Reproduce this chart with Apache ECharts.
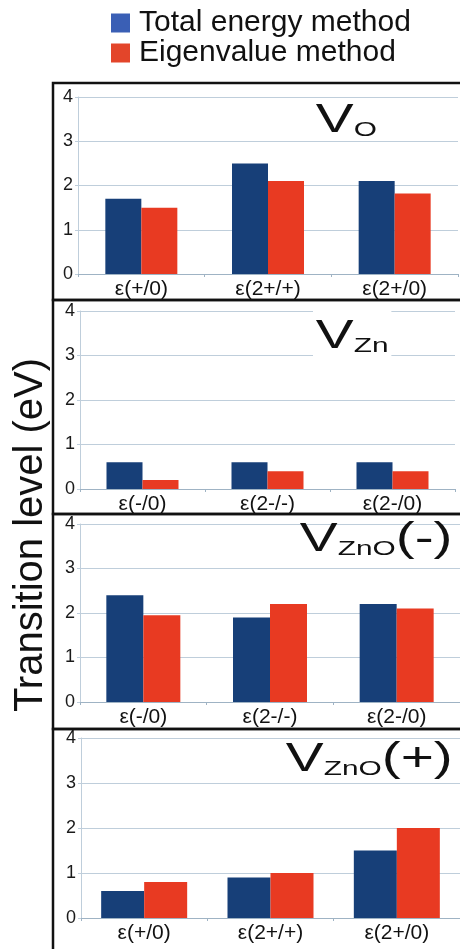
<!DOCTYPE html>
<html>
<head>
<meta charset="utf-8">
<script src="https://cdn.jsdelivr.net/npm/echarts@6/dist/echarts.min.js"></script>
<style>
html,body{margin:0;padding:0;background:#fff;}
#chart{width:460px;height:949px;}
</style>
</head>
<body>
<div id="chart"></div>
<script>
// ---- data ----
const seriesNames = ['Total energy method', 'Eigenvalue method'];
const yTicks = [0, 1, 2, 3, 4];

const catsVO = ['ε(+/0)', 'ε(2+/+)', 'ε(2+/0)'];
const totalVO = [1.7, 2.5, 2.1];
const eigenVO = [1.5, 2.1, 1.82];

const catsVZn = ['ε(-/0)', 'ε(2-/-)', 'ε(2-/0)'];
const totalVZn = [0.6, 0.6, 0.6];
const eigenVZn = [0.2, 0.4, 0.4];

const catsVZnOm = ['ε(-/0)', 'ε(2-/-)', 'ε(2-/0)'];
const totalVZnOm = [2.4, 1.9, 2.2];
const eigenVZnOm = [1.95, 2.2, 2.1];

const catsVZnOp = ['ε(+/0)', 'ε(2+/+)', 'ε(2+/0)'];
const totalVZnOp = [0.6, 0.9, 1.5];
const eigenVZnOp = [0.8, 1.0, 2.0];

const panelTitles = [
  {main: 'V', sub: 'O', tail: ''},
  {main: 'V', sub: 'Zn', tail: ''},
  {main: 'V', sub: 'ZnO', tail: '(-)'},
  {main: 'V', sub: 'ZnO', tail: '(+)'}
];
const yAxisTitle = 'Transition level (eV)';

// ---- layout / style ----
const FONT = '"Liberation Sans", Arial, sans-serif';
const BLUE = '#173f78';
const RED = '#e83a22';
const GRID_COLOR = '#bfcedb';

const panels = [
  {cats: catsVO, total: totalVO, eigen: eigenVO, grid: {left: 78, top: 97, width: 380, height: 177}, bw: 36},
  {cats: catsVZn, total: totalVZn, eigen: eigenVZn, grid: {left: 80, top: 311, width: 375, height: 178}, bw: 36},
  {cats: catsVZnOm, total: totalVZnOm, eigen: eigenVZnOm, grid: {left: 80, top: 524, width: 384, height: 178}, bw: 37},
  {cats: catsVZnOp, total: totalVZnOp, eigen: eigenVZnOp, grid: {left: 81, top: 738, width: 385, height: 180}, bw: 43}
];

const grids = [], xAxes = [], yAxes = [], series = [];
panels.forEach((p, i) => {
  grids.push(Object.assign({containLabel: false}, p.grid));
  xAxes.push({
    type: 'category', gridIndex: i, data: p.cats,
    axisLine: {lineStyle: {color: '#9fb3c4', width: 1}},
    axisTick: {show: true, length: 3, lineStyle: {color: '#9fb3c4'}},
    axisLabel: {color: '#111', fontSize: 21, fontFamily: FONT, margin: 5, interval: 0}
  });
  yAxes.push({
    type: 'value', gridIndex: i, min: yTicks[0], max: yTicks[yTicks.length - 1], interval: 1,
    axisLine: {show: true, lineStyle: {color: GRID_COLOR}},
    axisTick: {show: true, length: 3, lineStyle: {color: GRID_COLOR}},
    splitLine: {show: true, lineStyle: {color: GRID_COLOR, width: 1}},
    axisLabel: {color: '#1a1a1a', fontSize: 18, fontFamily: FONT, margin: 5}
  });
  series.push({
    name: seriesNames[0], type: 'bar', xAxisIndex: i, yAxisIndex: i, data: p.total,
    barWidth: p.bw, barGap: '0%', itemStyle: {color: BLUE}, silent: true, z: 3
  });
  series.push({
    name: seriesNames[1], type: 'bar', xAxisIndex: i, yAxisIndex: i, data: p.eigen,
    barWidth: p.bw, barGap: '0%', itemStyle: {color: RED}, silent: true, z: 3
  });
});

// panel boxes
const boxes = [[83, 300], [300, 514], [514, 729], [729, 962]].map(([y0, y1]) => ({
  type: 'rect', shape: {x: 53, y: y0, width: 460, height: y1 - y0},
  style: {fill: null, stroke: '#111', lineWidth: 2.5}, silent: true, z: 10
}));

// panel titles (stretched horizontally like the original)
const titlePos = [
  {x: 313, y: 141, bg: null},
  {x: 313, y: 357, bg: '#fff'},
  {x: 297, y: 560, bg: null},
  {x: 283, y: 780, bg: null}
];
const titles = panelTitles.map((t, i) => ({
  type: 'text', x: titlePos[i].x, y: titlePos[i].y, scaleX: 1.42, z: 8,
  style: {
    text: '{m|' + t.main + '}{s|' + t.sub + '}' + (t.tail ? '{t|' + t.tail + '}' : ''),
    fill: '#111', fontFamily: FONT, verticalAlign: 'bottom', align: 'left',
    backgroundColor: titlePos[i].bg, padding: [0, 2, 0, 2],
    rich: {
      m: {fontSize: 40, fontFamily: FONT, fill: '#111', verticalAlign: 'bottom', lineHeight: 48},
      s: {fontSize: 21, fontFamily: FONT, fill: '#111', verticalAlign: 'bottom', lineHeight: 30},
      t: {fontSize: 40, fontFamily: FONT, fill: '#111', verticalAlign: 'bottom', lineHeight: 48}
    }
  }
}));

const option = {
  backgroundColor: '#fff',
  animation: false,
  textStyle: {fontFamily: FONT},
  legend: {
    orient: 'vertical', left: 106, top: 3,
    icon: 'rect', itemWidth: 19, itemHeight: 19, itemGap: 0,
    selectedMode: false,
    textStyle: {fontSize: 30, color: '#111', fontFamily: FONT, lineHeight: 29, padding: [0, 0, 0, 4]},
    data: [
      {name: seriesNames[0], itemStyle: {color: '#3a5fb5'}},
      {name: seriesNames[1], itemStyle: {color: '#e3452a'}}
    ]
  },
  grid: grids,
  xAxis: xAxes,
  yAxis: yAxes,
  series: series,
  graphic: boxes.concat(titles).concat([{
    type: 'text', x: 31, y: 535, rotation: Math.PI / 2, z: 8,
    style: {text: yAxisTitle, fontSize: 40, fontFamily: FONT, fill: '#111', align: 'center', verticalAlign: 'middle'}
  }])
};

const chart = echarts.init(document.getElementById('chart'), null, {renderer: 'canvas'});
chart.setOption(option);
</script>
</body>
</html>
